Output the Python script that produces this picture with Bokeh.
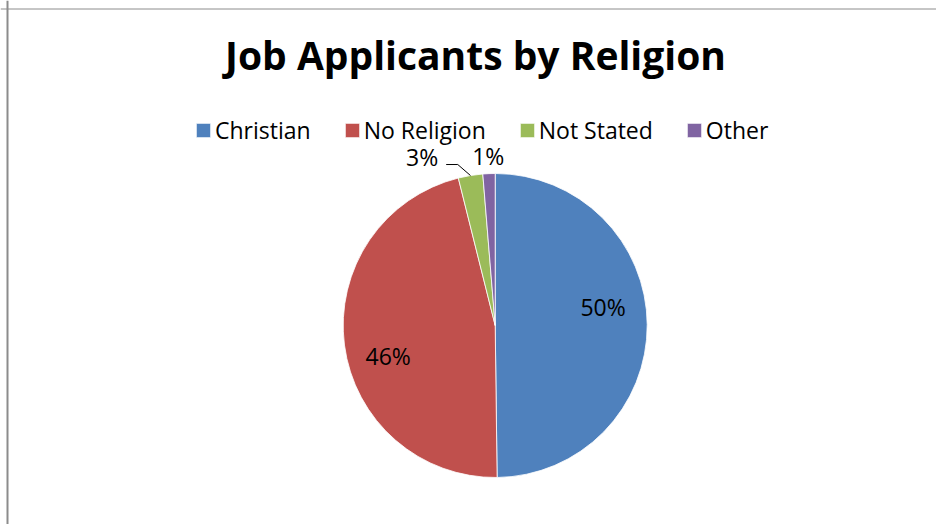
import numpy as np
from bokeh.plotting import figure
from bokeh.models import Range1d, Span, Legend, LegendItem, ColumnDataSource
from bokeh.core.properties import value
from bokeh.embed import file_html
from bokeh.resources import INLINE

# ---- data ----
categories = ["Christian", "No Religion", "Not Stated", "Other"]
shares = [49.8, 46.3, 2.6, 1.3]
pct_labels = ["50%", "46%", "3%", "1%"]
colors = ["#4F81BD", "#C0504D", "#9BBB59", "#8064A2"]
title_text = "Job Applicants by Religion"

# ---- layout (1 data unit = 1 screen pixel, y measured from bottom) ----
W, H = 936, 524
CX, CY, R = 494.7, 199.0, 152.0
FONT = "Open Sans"

p = figure(width=W, height=H, x_range=Range1d(0, W), y_range=Range1d(0, H),
           x_axis_type=None, y_axis_type=None, output_backend="svg",
           toolbar_location=None, min_border=0)
p.grid.visible = False
p.outline_line_color = None
p.background_fill_color = "white"
p.border_fill_color = "white"

frac = np.array(shares, dtype=float) / np.sum(shares)
cum = np.cumsum(frac)
start = np.pi / 2 - 2 * np.pi * np.concatenate([[0.0], cum[:-1]])
end = np.pi / 2 - 2 * np.pi * cum
mid = (start + end) / 2

src = ColumnDataSource(dict(cat=categories, start=start, end=end, color=colors))
wr = p.wedge(x=CX, y=CY, radius=R, start_angle="start", end_angle="end",
             direction="clock", fill_color="color", line_color="white",
             line_width=0.8, source=src)

# labels
lx, ly, la = [], [], []
inside_nudge = [18, -17]
lead_x, lead_y = [], []
for i, m in enumerate(mid):
    if frac[i] > 0.1:
        lx.append(CX + 0.71 * R * np.cos(m))
        ly.append(CY + 0.71 * R * np.sin(m) + inside_nudge[i])
        la.append("center")
    elif i == 2:
        ex, ey = CX + R * np.cos(m), CY + R * np.sin(m)
        bx, by = ex - 12.7, ey + 11
        sx, sy = bx - 11.6, by
        lead_x.append([ex, bx, sx]); lead_y.append([ey, by, sy])
        lx.append(sx - 8); ly.append(sy + 8); la.append("right")
    else:
        lx.append(CX + 1.115 * R * np.cos(m))
        ly.append(CY + 1.115 * R * np.sin(m))
        la.append("center")

p.multi_line(xs=lead_x, ys=lead_y, line_color="black", line_width=1)
lsrc = ColumnDataSource(dict(x=lx, y=ly, t=pct_labels, a=la))
p.text(x="x", y="y", text="t", text_align="a", text_baseline="middle",
       text_font=value(FONT), text_font_size="23px", text_color="black", source=lsrc)

# title
p.text(x=[475], y=[470], text=[title_text], text_align="center",
       text_baseline="middle", text_font=value(FONT), text_font_style="bold",
       text_font_size="39px", text_color="black")

# legend
items = [LegendItem(label=c, renderers=[wr], index=i) for i, c in enumerate(categories)]
legend = Legend(items=items, orientation="horizontal", location=(194, 378),
                padding=0, margin=0, spacing=32, glyph_width=18, glyph_height=18,
                label_standoff=3, label_text_font=FONT, label_text_font_size="23px",
                label_text_color="black", border_line_color=None,
                background_fill_alpha=0)
p.add_layout(legend)

# chart border (left and top visible)
p.add_layout(Span(location=7, dimension="height", line_color="#8c8c8c", line_width=2))
p.add_layout(Span(location=515.5, dimension="width", line_color="#8c8c8c", line_width=1))

open("out.html", "w").write(file_html(p, INLINE))
